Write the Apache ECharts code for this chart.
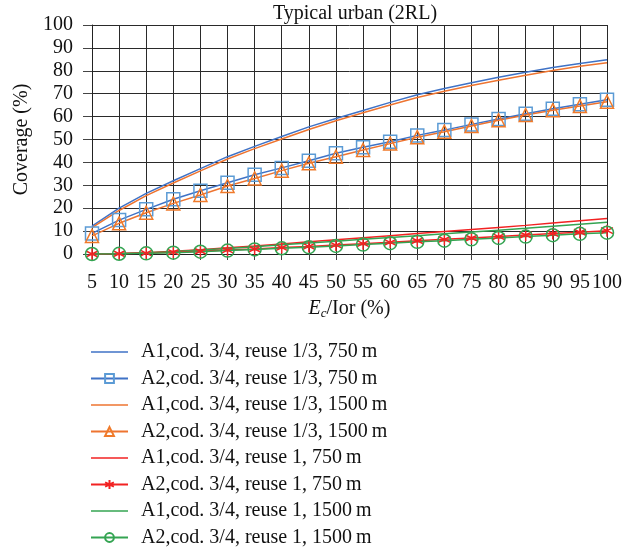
<!DOCTYPE html>
<html>
<head>
<meta charset="utf-8">
<script src="https://cdn.jsdelivr.net/npm/echarts@6/dist/echarts.min.js"></script>
<style>html,body{margin:0;padding:0;background:#fff}#c{width:637px;height:552px}</style>
</head>
<body>
<div id="c"></div>
<script>
const categories = ['5','10','15','20','25','30','35','40','45','50','55','60','65','70','75','80','85','90','95','100'];
const a1Reuse13_750  = [12.2,20.0,26.5,32.0,37.3,42.5,47.0,51.3,55.5,59.2,62.7,66.2,69.5,72.3,74.8,77.2,79.4,81.4,83.2,84.8];
const a2Reuse13_750  = [9.0,14.8,19.5,23.9,27.6,31.1,34.6,37.6,40.7,44.0,46.6,49.0,51.8,54.1,56.6,59.0,61.2,63.4,65.4,67.4];
const a1Reuse13_1500 = [11.5,19.0,25.5,31.0,36.3,41.5,46.0,50.2,54.4,58.2,61.7,65.1,68.3,71.1,73.6,75.9,78.1,80.1,82.0,83.5];
const a2Reuse13_1500 = [7.9,13.4,18.0,22.1,25.8,29.7,33.0,36.4,39.6,42.5,45.4,48.2,51.0,53.4,55.9,58.4,60.7,62.8,64.6,66.5];
const a1Reuse1_750   = [0,0.2,0.6,1.2,1.9,2.7,3.5,4.4,5.3,6.2,7.1,8.0,8.9,9.8,10.7,11.6,12.5,13.5,14.5,15.5];
const a2Reuse1_750   = [0,0.1,0.4,0.8,1.2,1.7,2.2,2.8,3.3,3.9,4.5,5.1,5.8,6.4,7.0,7.6,8.3,8.9,9.5,10.2];
const a1Reuse1_1500  = [0,0.1,0.5,1.0,1.7,2.4,3.2,4.0,4.8,5.6,6.4,7.2,8.0,8.8,9.6,10.4,11.2,12.1,13.0,13.9];
const a2Reuse1_1500  = [0,0.1,0.3,0.6,1.0,1.5,2.0,2.5,3.0,3.5,4.1,4.7,5.3,5.8,6.4,7.0,7.6,8.2,8.8,9.3];
const seriesNames = [
  'A1,cod. 3/4, reuse 1/3, 750\u2009m','A2,cod. 3/4, reuse 1/3, 750\u2009m',
  'A1,cod. 3/4, reuse 1/3, 1500\u2009m','A2,cod. 3/4, reuse 1/3, 1500\u2009m',
  'A1,cod. 3/4, reuse 1, 750\u2009m','A2,cod. 3/4, reuse 1, 750\u2009m',
  'A1,cod. 3/4, reuse 1, 1500\u2009m','A2,cod. 3/4, reuse 1, 1500\u2009m'];

const FONT = '"Liberation Serif", "DejaVu Serif", serif';
const FS = 20;
const BLUE = '#3F72C6', BLUE_M = '#5B9BD5';
const ORANGE = '#EE7430', ORANGE_M = '#F07A2A';
const RED = '#F22222';
const GREEN = '#34A452';
const asterisk = 'path://M5,0L5,10M0.2,2.5L9.8,7.5M0.2,7.5L9.8,2.5';
const lineIcon = 'path://M0,0L0,0M0,4.8L37,4.8L37,6.3L0,6.3ZM37,11L37,11';

function lineSeries(name, data, color) {
  return {name, type:'line', data, symbol:'none', smooth:false,
    lineStyle:{color, width:1.5}, itemStyle:{color}, z:2};
}
function markSeries(name, data, color, mcolor, symbol, size) {
  return {name, type:'line', data, symbol, symbolSize:size, showSymbol:true, smooth:false,
    lineStyle:{color, width:1.5},
    itemStyle:{color: symbol===asterisk ? mcolor : 'rgba(0,0,0,0)', borderColor:mcolor, borderWidth:1.5}, z:3};
}

const chart = echarts.init(document.getElementById('c'), null, {renderer:'canvas'});
chart.setOption({
  animation:false,
  backgroundColor:'#fff',
  textStyle:{fontFamily:FONT},
  title:{text:'Typical urban (2RL)', left:350, top:-1, textAlign:'center',
    textStyle:{fontFamily:FONT, fontSize:FS, fontWeight:'normal', color:'#111'}},
  grid:{left:92, right:30, top:25, bottom:298, containLabel:false},
  legend:{orient:'vertical', left:90, top:341, padding:0, itemWidth:37, itemHeight:11, itemGap:4.5,
    textStyle:{fontFamily:FONT, fontSize:FS, color:'#111', lineHeight:22, padding:[0,0,0,8]},
    data:seriesNames.map(function(n, i){ return i % 2 === 0 ? {name:n, icon:lineIcon} : {name:n}; })},
  xAxis:{type:'category', data:categories, boundaryGap:false,
    axisLine:{lineStyle:{color:'#222', width:1}},
    axisTick:{show:true, length:6, alignWithLabel:true, lineStyle:{color:'#444'}},
    axisLabel:{fontFamily:FONT, fontSize:FS, color:'#111', margin:19, interval:0},
    splitLine:{show:true, lineStyle:{color:'#2a2a2a', width:1}},
    name:'{i|E}{s|c}{n|/Ior (%)}', nameLocation:'middle', nameGap:44,
    nameTextStyle:{rich:{
      i:{fontFamily:FONT, fontSize:FS, fontStyle:'italic', color:'#111'},
      s:{fontFamily:FONT, fontSize:13, fontStyle:'italic', color:'#111', verticalAlign:'bottom', padding:[9,0,0,0]},
      n:{fontFamily:FONT, fontSize:FS, color:'#111'}}}},
  yAxis:{type:'value', min:0, max:100, interval:10,
    axisLine:{show:true, lineStyle:{color:'#222', width:1}},
    axisTick:{show:true, length:9, lineStyle:{color:'#444'}},
    axisLabel:{fontFamily:FONT, fontSize:FS, color:'#111', margin:19},
    splitLine:{show:true, lineStyle:{color:'#2a2a2a', width:1}},
    name:'Coverage (%)', nameLocation:'middle', nameGap:55,
    nameTextStyle:{fontFamily:FONT, fontSize:FS, color:'#111'}},
  series:[
    lineSeries(seriesNames[0], a1Reuse13_750, BLUE),
    markSeries(seriesNames[1], a2Reuse13_750, BLUE, BLUE_M, 'rect', 13),
    lineSeries(seriesNames[2], a1Reuse13_1500, ORANGE),
    markSeries(seriesNames[3], a2Reuse13_1500, ORANGE, ORANGE_M, 'triangle', 13),
    lineSeries(seriesNames[4], a1Reuse1_750, RED),
    markSeries(seriesNames[5], a2Reuse1_750, RED, RED, asterisk, 12),
    lineSeries(seriesNames[6], a1Reuse1_1500, GREEN),
    markSeries(seriesNames[7], a2Reuse1_1500, GREEN, GREEN, 'circle', 13)
  ]
});
</script>
</body>
</html>
